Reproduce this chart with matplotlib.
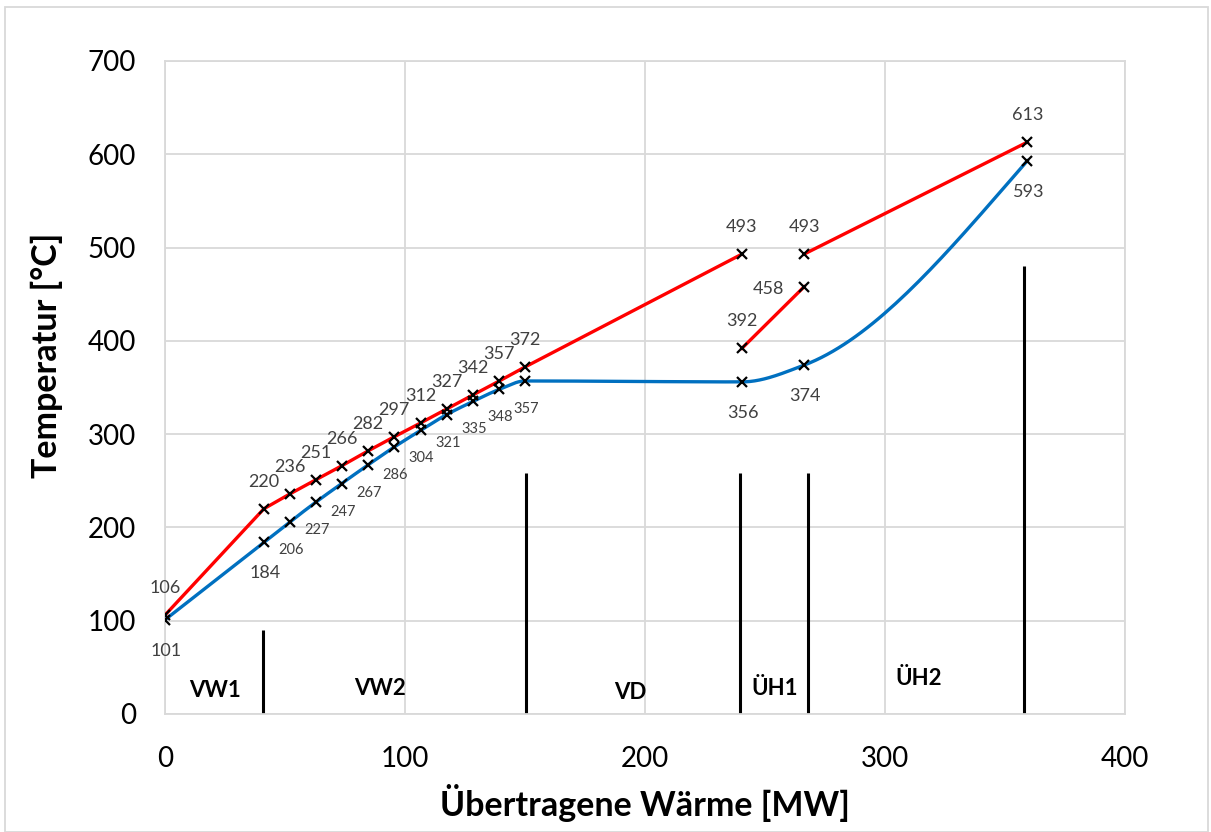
import numpy as np
import matplotlib
matplotlib.use("Agg")
import matplotlib.pyplot as plt
from matplotlib.patches import Rectangle

plt.rcParams['font.family'] = ['Lato', 'DejaVu Sans']

# ---- data ----
heat_main = [0, 41.2, 52.1, 62.8, 73.6, 84.6, 95.4, 106.5, 117.4, 128.3, 139.3, 150.0]
red_main = [106, 220, 236, 251, 266, 282, 297, 312, 327, 342, 357, 372]
blue_main = [101, 184, 206, 227, 247, 267, 286, 304, 321, 335, 348, 357]

red_seg1_x = heat_main + [240.4]
red_seg1_y = red_main + [493]
red_seg2_x = [240.4, 266.3]
red_seg2_y = [392, 458]
red_seg3_x = [266.3, 359.3]
red_seg3_y = [493, 613]

blue_x = heat_main + [240.4, 266.3, 359.3]
blue_y = blue_main + [356, 374, 593]

section_x = [40.8, 150.5, 239.7, 267.9, 357.9]
section_top = [90, 258, 258, 258, 480]
section_names = ['VW1', 'VW2', 'VD', 'ÜH1', 'ÜH2']
section_label_x = [20.8, 89.6, 193.8, 254.0, 314.0]
section_label_y = [25.5, 27.5, 23.5, 27.5, 38.5]

xticks = [0, 100, 200, 300, 400]
yticks = [0, 100, 200, 300, 400, 500, 600, 700]

RED = '#FF0000'
BLUE = '#0070C0'
GRID = '#D9D9D9'
LBL = '#404040'


def smooth_curve(xs, ys, n=40):
    """Monotone cubic Hermite (Fritsch-Carlson) through the points."""
    x = np.asarray(xs, float)
    y = np.asarray(ys, float)
    h = np.diff(x)
    d = np.diff(y) / h
    m = np.zeros_like(y)
    m[0] = d[0]
    m[-1] = d[-1] * 1.25
    for i in range(1, len(x) - 1):
        if d[i - 1] * d[i] <= 0:
            m[i] = 0.0
        else:
            w1 = 2 * h[i] + h[i - 1]
            w2 = h[i] + 2 * h[i - 1]
            m[i] = (w1 + w2) / (w1 / d[i - 1] + w2 / d[i])
    X, Y = [], []
    for i in range(len(x) - 1):
        t = np.linspace(0, 1, n)
        h00 = 2 * t ** 3 - 3 * t ** 2 + 1
        h10 = t ** 3 - 2 * t ** 2 + t
        h01 = -2 * t ** 3 + 3 * t ** 2
        h11 = t ** 3 - t ** 2
        X.append(x[i] + t * h[i])
        Y.append(h00 * y[i] + h10 * h[i] * m[i] + h01 * y[i + 1] + h11 * h[i] * m[i + 1])
    return np.concatenate(X), np.concatenate(Y)


fig = plt.figure(figsize=(12.11, 8.32), dpi=100)
ax = fig.add_axes([165 / 1211, 1 - 714 / 832, 960 / 1211, 653 / 832])

# figure border
fig.patches.append(Rectangle((5 / 1211, 0), 1203 / 1211, 1 - 7 / 832, transform=fig.transFigure,
                             fill=False, edgecolor=GRID, linewidth=1.3))

ax.set_xlim(0, 400)
ax.set_ylim(0, 700)
ax.set_xticks(xticks)
ax.set_yticks(yticks)
ax.grid(True, color=GRID, linewidth=1.3)
ax.set_axisbelow(True)
for s in ax.spines.values():
    s.set_color(GRID)
    s.set_linewidth(1.3)
ax.tick_params(length=0, labelsize=20, pad=21, colors='black')
ax.tick_params(axis='x', pad=23)

# blue smooth curve
bx, by = smooth_curve(blue_x, blue_y)
ax.plot(bx, by, color=BLUE, linewidth=2.4, zorder=3)
ax.plot(blue_x, blue_y, linestyle='none', marker='x', color='black', markersize=7, mew=1.6, zorder=5)

# red segments
for xs, ys in [(red_seg1_x, red_seg1_y), (red_seg2_x, red_seg2_y), (red_seg3_x, red_seg3_y)]:
    ax.plot(xs, ys, color=RED, linewidth=2.4, zorder=4)
    ax.plot(xs, ys, linestyle='none', marker='x', color='black', markersize=7, mew=1.6, zorder=5)

# section lines and labels
ax.vlines(section_x, 0, section_top, color='black', linewidth=2.2, zorder=2)
for name, lx, ly in zip(section_names, section_label_x, section_label_y):
    ax.text(lx, ly, name, ha='center', va='center', fontsize=16, fontweight='bold', color='black')

# red labels (above)
red_lbl_x = red_seg1_x + red_seg2_x + red_seg3_x
red_lbl_y = red_seg1_y + red_seg2_y + red_seg3_y
for x, y in zip(red_lbl_x, red_lbl_y):
    off = (0, 27)
    if y == 458:
        off = (-36, -2)
    ax.annotate(str(y), (x, y), xytext=off, textcoords='offset pixels',
                ha='center', va='center', fontsize=13, color=LBL)

# blue labels (below)
big_blue = {101, 184, 356, 374, 593}
for x, y in zip(blue_x, blue_y):
    if y in big_blue:
        fs, dy = 13, -31
    else:
        fs, dy = 10.5, -28
    ax.annotate(str(y), (x, y), xytext=(1, dy), textcoords='offset pixels',
                ha='center', va='center', fontsize=fs, color=LBL)

fig.text(645 / 1211, 1 - 803 / 832, 'Übertragene Wärme [MW]', ha='center', va='center',
         fontsize=24.5, fontweight='bold')
fig.text(47 / 1211, 1 - 355 / 832, 'Temperatur [°C]', ha='center', va='center', rotation=90,
         fontsize=24.5, fontweight='bold')

fig.savefig('out.png', dpi=100)
